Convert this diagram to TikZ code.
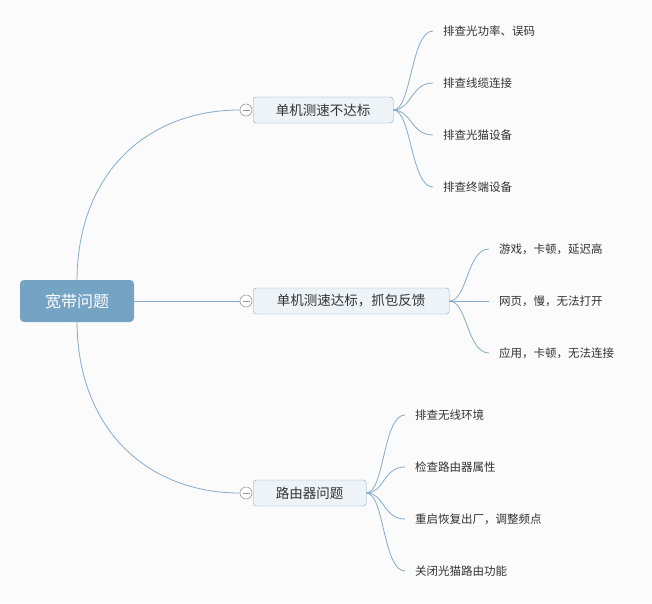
\documentclass[tikz,border=0pt]{standalone}
\usepackage{fontspec}
\setmainfont{Noto Sans CJK SC}
\begin{document}
\begin{tikzpicture}[x=1pt,y=-1pt,
  link/.style={draw=lineblue,line width=0.8pt},
  rootbox/.style={draw=none,fill=rootblue,rounded corners=4pt,text=white,font=\fontsize{16}{18}\selectfont,minimum width=114pt,minimum height=42pt,inner sep=0pt},
  topicbox/.style={draw=lineblue,fill=boxfill,rounded corners=3pt,text=textgray,font=\fontsize{13.5}{15}\selectfont,minimum height=26pt,inner sep=0pt,anchor=west},
  foldmark/.style={circle,draw=foldgray,fill=white,line width=0.6pt,minimum size=12pt,inner sep=0pt,
    path picture={\draw[foldgray,line width=0.6pt] ([xshift=-3.5pt]path picture bounding box.center) -- ([xshift=3.5pt]path picture bounding box.center);}},
  leaf/.style={anchor=west,text=textgray,font=\fontsize{11.5}{13}\selectfont,inner xsep=10pt,inner ysep=2pt}]
\definecolor{lineblue}{HTML}{85AACB}
\definecolor{rootblue}{HTML}{74A3C4}
\definecolor{boxfill}{HTML}{EEF3F7}
\definecolor{textgray}{HTML}{333333}
\definecolor{foldgray}{HTML}{9A9A9A}
\fill[white!97!gray] (0,0) rectangle (652,603);
\useasboundingbox (0,0) rectangle (652,603);

% root
\node[rootbox] (root) at (77,301) {宽带问题};

% fold marks
\node[foldmark] (c1) at (246,110) {};
\node[foldmark] (c2) at (246,301) {};
\node[foldmark] (c3) at (246,493) {};

% topics
\node[topicbox,minimum width=140pt] (t1) at (253,110) {单机测速不达标};
\node[topicbox,minimum width=196pt] (t2) at (253,301) {单机测速达标，抓包反馈};
\node[topicbox,minimum width=113pt] (t3) at (253,493) {路由器问题};

% root connectors
\draw[link] (root.north) .. controls (78,170) and (150,110) .. (c1.west);
\draw[link] (root.east) -- (c2.west);
\draw[link] (root.south) .. controls (78,432) and (150,493) .. (c3.west);

% leaves of t1
\node[leaf] (a1) at (433,31) {排查光功率、误码};
\node[leaf] (a2) at (433,83) {排查线缆连接};
\node[leaf] (a3) at (433,135) {排查光猫设备};
\node[leaf] (a4) at (433,187) {排查终端设备};
\foreach \n in {a1,a2,a3,a4}
  \draw[link] (t1.east) .. controls ([xshift=18pt]t1.east) and ([xshift=-22pt]\n.west) .. (\n.west);

% leaves of t2
\node[leaf] (b1) at (489,249) {游戏，卡顿，延迟高};
\node[leaf] (b2) at (489,301) {网页，慢，无法打开};
\node[leaf] (b3) at (489,353) {应用，卡顿，无法连接};
\draw[link] (t2.east) .. controls ([xshift=18pt]t2.east) and ([xshift=-22pt]b1.west) .. (b1.west);
\draw[link] (t2.east) -- (b2.west);
\draw[link] (t2.east) .. controls ([xshift=18pt]t2.east) and ([xshift=-22pt]b3.west) .. (b3.west);

% leaves of t3
\node[leaf] (d1) at (405,415) {排查无线环境};
\node[leaf] (d2) at (405,467) {检查路由器属性};
\node[leaf] (d3) at (405,519) {重启恢复出厂，调整频点};
\node[leaf] (d4) at (405,571) {关闭光猫路由功能};
\foreach \n in {d1,d2,d3,d4}
  \draw[link] (t3.east) .. controls ([xshift=18pt]t3.east) and ([xshift=-22pt]\n.west) .. (\n.west);
\end{tikzpicture}
\end{document}
